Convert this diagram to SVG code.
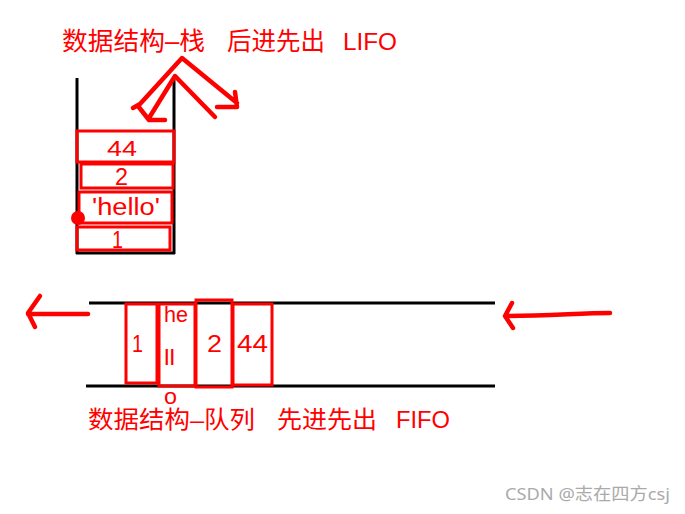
<svg xmlns="http://www.w3.org/2000/svg" width="685" height="514" viewBox="0 0 685 514">
<style>
.bk{stroke:#000;stroke-width:3;fill:none}
.rb{stroke:#f00;stroke-width:3;fill:none}
.ra{stroke:#f00;stroke-width:4.5;fill:none;stroke-linecap:round;stroke-linejoin:round}
.t{fill:#f00;font-family:"Liberation Sans","Noto Sans CJK SC",sans-serif}
</style>
<rect width="685" height="514" fill="#fff"/>
<text class="t" x="62" y="50" font-size="25" textLength="143" lengthAdjust="spacingAndGlyphs">数据结构–栈</text>
<text class="t" x="227" y="50" font-size="25" textLength="98" lengthAdjust="spacingAndGlyphs">后进先出</text>
<text class="t" x="343" y="50" font-size="23" textLength="54" lengthAdjust="spacingAndGlyphs">LIFO</text>
<g id="stack">
<path class="bk" d="M77 78V254M174 80V254M76 253H175"/>
<g id="s44"><rect class="rb" x="77" y="131" width="97" height="31"/><text class="t" x="107" y="156" font-size="22" textLength="30" lengthAdjust="spacingAndGlyphs">44</text></g>
<g id="s2"><rect class="rb" x="81" y="164" width="92" height="24"/><text class="t" x="115" y="185" font-size="23" textLength="13" lengthAdjust="spacingAndGlyphs">2</text></g>
<g id="shello"><rect class="rb" x="79" y="192" width="93" height="31"/><text class="t" x="92" y="215" font-size="23" textLength="68" lengthAdjust="spacingAndGlyphs">'hello'</text></g>
<g id="s1"><rect class="rb" x="77" y="227" width="93" height="23"/><text class="t" x="112" y="248" font-size="23" textLength="11" lengthAdjust="spacingAndGlyphs">1</text></g>
<circle cx="78" cy="218" r="7" fill="#f00"/>
</g>
<g id="queue">
<path class="bk" d="M89 303H495M86 386H495"/>
<g id="q1"><rect class="rb" x="126" y="304" width="31" height="79"/><text class="t" x="132" y="352" font-size="23" textLength="11" lengthAdjust="spacingAndGlyphs">1</text></g>
<g id="qhello"><rect class="rb" x="159" y="304" width="36" height="82"/><text class="t" x="164" y="322" font-size="22" textLength="24" lengthAdjust="spacingAndGlyphs">he</text><text class="t" x="164" y="365" font-size="22" textLength="11" lengthAdjust="spacingAndGlyphs">ll</text><text class="t" x="164" y="404" font-size="22" textLength="13" lengthAdjust="spacingAndGlyphs">o</text></g>
<g id="q2"><rect class="rb" x="196" y="300" width="36" height="87"/><text class="t" x="207" y="352" font-size="23" textLength="15" lengthAdjust="spacingAndGlyphs">2</text></g>
<g id="q44"><rect class="rb" x="233" y="304" width="39" height="81"/><text class="t" x="237" y="352" font-size="23" textLength="31" lengthAdjust="spacingAndGlyphs">44</text></g>
</g>
<g id="connectors">
<path class="ra" d="M133 108L140 104L182 58L237 103M217 107H237L235 92"/>
<path class="ra" d="M138 106L149 120H165M149 118L175 76L215 117"/>
<path class="ra" d="M88 314H28M40 296L28 313L35 327"/>
<path class="ra" d="M610 313C580 313 550 316 506 316M512 303L505 316L513 328"/>
</g>
<text class="t" x="88" y="428" font-size="24" textLength="167" lengthAdjust="spacingAndGlyphs">数据结构–队列</text>
<text class="t" x="277" y="428" font-size="24" textLength="100" lengthAdjust="spacingAndGlyphs">先进先出</text>
<text class="t" x="396" y="428" font-size="23" textLength="54" lengthAdjust="spacingAndGlyphs">FIFO</text>
<text x="505" y="500" font-size="17" fill="#aaa" textLength="165" lengthAdjust="spacingAndGlyphs" font-family="'Noto Sans','Noto Sans CJK SC',sans-serif">CSDN @志在四方csj</text>
</svg>
